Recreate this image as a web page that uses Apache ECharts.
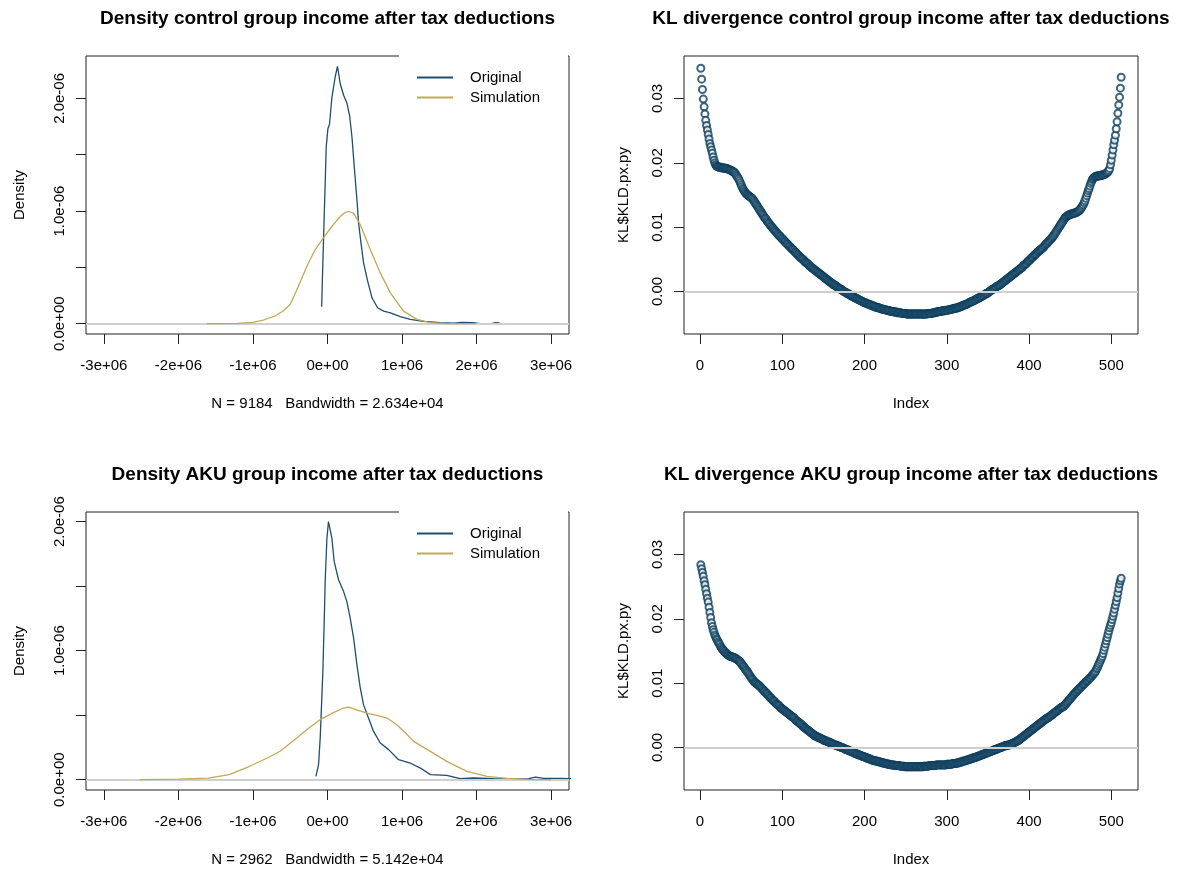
<!DOCTYPE html>
<html>
<head>
<meta charset="utf-8">
<script src="https://cdn.jsdelivr.net/npm/echarts@6/dist/echarts.min.js"></script>
<style>
html,body{margin:0;padding:0;background:#fff}
#chart{width:1197px;height:870px}
</style>
</head>
<body>
<div id="chart"></div>
<script>
// ---- tick positions and labels ----
const densityXTicks = [-3e6, -2e6, -1e6, 0, 1e6, 2e6, 3e6];
const densityXLabels = ['-3e+06', '-2e+06', '-1e+06', '0e+00', '1e+06', '2e+06', '3e+06'];
const densityYTicks = [0, 0.5e-6, 1e-6, 1.5e-6, 2e-6];
const densityYLabelValues = [0, 1e-6, 2e-6];
const densityYLabels = ['0.0e+00', '1.0e-06', '2.0e-06'];
const klXTicks = [0, 100, 200, 300, 400, 500];
const klYTicks = [0, 0.01, 0.02, 0.03];
const klYLabels = ['0.00', '0.01', '0.02', '0.03'];

const panelTitles = [
  'Density control group income after tax deductions',
  'KL divergence control group income after tax deductions',
  'Density AKU group income after tax deductions',
  'KL divergence AKU group income after tax deductions'
];
const densityNotes = ['N = 9184   Bandwidth = 2.634e+04', 'N = 2962   Bandwidth = 5.142e+04'];
const seriesNames = ['Original', 'Simulation'];

// ---- density curves [income, density] ----
const originalControl = [
  [-7.8e4,0.15e-6],[-7.0e4,0.36e-6],[-5.4e4,0.73e-6],[-3.1e4,1.25e-6],[-1.7e4,1.57e-6],
  [0.5e4,1.73e-6],[2.7e4,1.77e-6],[5.9e4,2.01e-6],[10.3e4,2.19e-6],[13.4e4,2.285e-6],
  [17.1e4,2.13e-6],[21.5e4,2.03e-6],[26e4,1.96e-6],[29.6e4,1.85e-6],[32.8e4,1.66e-6],
  [35.9e4,1.39e-6],[39.5e4,1.10e-6],[41.7e4,0.894e-6],[44.9e4,0.717e-6],[48.4e4,0.54e-6],
  [53.8e4,0.38e-6],[59.7e4,0.23e-6],[67.2e4,0.142e-6],[75.3e4,0.112e-6],[84.3e4,0.097e-6],
  [97.7e4,0.062e-6],[111e4,0.038e-6],[129e4,0.02e-6],[151e4,0.009e-6],[170e4,0.006e-6],
  [180e4,0.012e-6],[195e4,0.01e-6],[205e4,0],[220e4,0],[225e4,0.01e-6],[231e4,0.008e-6]
];
const simulationControl = [
  [-162e4,0],[-140e4,0.001e-6],[-120e4,0.003e-6],[-100e4,0.012e-6],[-85e4,0.035e-6],
  [-70e4,0.07e-6],[-60e4,0.11e-6],[-50.1e4,0.171e-6],[-39e4,0.333e-6],[-27.7e4,0.51e-6],
  [-16.5e4,0.658e-6],[-5.4e4,0.761e-6],[5.9e4,0.864e-6],[17.1e4,0.952e-6],[23e4,0.985e-6],
  [28.2e4,0.996e-6],[35e4,0.982e-6],[44e4,0.879e-6],[57.4e4,0.658e-6],[70.8e4,0.451e-6],
  [84.3e4,0.274e-6],[102e4,0.112e-6],[120e4,0.038e-6],[138e4,0.009e-6],[160e4,0.002e-6],
  [200e4,0]
];
const originalAku = [
  [-15.6e4,0.026e-6],[-12e4,0.116e-6],[-9.8e4,0.323e-6],[-8e4,0.58e-6],[-6.2e4,0.84e-6],
  [-4.4e4,1.23e-6],[-3.1e4,1.54e-6],[-0.8e4,1.87e-6],[1.3e4,2.0e-6],[3.6e4,1.99e-6],
  [5.9e4,1.87e-6],[9e4,1.69e-6],[14.8e4,1.55e-6],[21.5e4,1.46e-6],[26e4,1.38e-6],
  [30.5e4,1.25e-6],[35e4,1.10e-6],[39.5e4,0.89e-6],[44e4,0.71e-6],[48.4e4,0.58e-6],
  [55e4,0.478e-6],[61.8e4,0.374e-6],[70.8e4,0.284e-6],[82e4,0.233e-6],[95.4e4,0.155e-6],
  [111e4,0.129e-6],[124.6e4,0.09e-6],[138e4,0.039e-6],[160e4,0.033e-6],[178e4,0.008e-6],
  [196e4,0.013e-6],[223e4,0.008e-6],[245e4,0.004e-6],[270e4,0.008e-6],[279e4,0.02e-6],
  [290e4,0.01e-6],[310e4,0.01e-6],[330e4,0.008e-6]
];
const simulationAku = [
  [-252e4,0],[-200e4,0.004e-6],[-160e4,0.012e-6],[-132e4,0.039e-6],[-106e4,0.1e-6],
  [-80e4,0.17e-6],[-63.6e4,0.22e-6],[-41.1e4,0.323e-6],[-25e4,0.4e-6],[-9.8e4,0.465e-6],
  [8.1e4,0.52e-6],[20e4,0.552e-6],[28.2e4,0.563e-6],[40e4,0.54e-6],[53e4,0.516e-6],
  [66e4,0.498e-6],[79.8e4,0.478e-6],[93e4,0.426e-6],[105e4,0.36e-6],[115.6e4,0.297e-6],
  [138e4,0.219e-6],[160e4,0.142e-6],[187e4,0.064e-6],[214e4,0.026e-6],[241e4,0.01e-6],
  [270e4,0.003e-6],[300e4,0]
];

// ---- KL divergence per index (1..512) ----
const klControl = [
  0.0347,0.0330,0.0314,0.0299,0.0287,0.0276,0.0266,0.0258,0.0251,0.0244,
  0.0237,0.0230,0.0225,0.0220,0.0215,0.0209,0.0204,0.0200,0.0197,0.0195,
  0.0194,0.0194,0.0193,0.0193,0.0193,0.0193,0.0192,0.0192,0.0192,0.0192,
  0.0191,0.0191,0.0191,0.0190,0.0190,0.0189,0.0189,0.0188,0.0187,0.0186,
  0.0186,0.0185,0.0183,0.0181,0.0179,0.0177,0.0175,0.0172,0.0169,0.0166,
  0.0163,0.0160,0.0158,0.0156,0.0154,0.0152,0.0151,0.0150,0.0149,0.0148,
  0.0147,0.0146,0.0145,0.0144,0.0142,0.0140,0.0138,0.0136,0.0134,0.0132,
  0.0130,0.0128,0.0126,0.0124,0.0122,0.0120,0.0118,0.0116,0.0114,0.0113,
  0.0111,0.0109,0.0107,0.0106,0.0104,0.0102,0.0101,0.0099,0.0098,0.0096,
  0.0095,0.0093,0.0092,0.0090,0.0089,0.0087,0.0086,0.0085,0.0083,0.0082,
  0.0081,0.0079,0.0078,0.0077,0.0075,0.0074,0.0073,0.0071,0.0070,0.0069,
  0.0067,0.0066,0.0065,0.0064,0.0062,0.0061,0.0060,0.0058,0.0057,0.0056,
  0.0054,0.0053,0.0052,0.0051,0.0050,0.0049,0.0047,0.0046,0.0045,0.0044,
  0.0043,0.0042,0.0040,0.0039,0.0038,0.0037,0.0036,0.0035,0.0034,0.0033,
  0.0032,0.0031,0.0030,0.0029,0.0028,0.0027,0.0026,0.0025,0.0024,0.0023,
  0.0022,0.0021,0.0020,0.0019,0.0018,0.0017,0.0016,0.0015,0.0014,0.0013,
  0.0012,0.0011,0.0010,0.0010,0.0009,0.0008,0.0007,0.0006,0.0005,0.0004,
  0.0004,0.0003,0.0002,0.0001,0.0000,-0.0001,-0.0001,-0.0002,-0.0003,-0.0004,
  -0.0004,-0.0005,-0.0006,-0.0007,-0.0007,-0.0008,-0.0009,-0.0009,-0.0010,-0.0011,
  -0.0011,-0.0012,-0.0013,-0.0013,-0.0014,-0.0015,-0.0015,-0.0016,-0.0017,-0.0017,
  -0.0018,-0.0018,-0.0019,-0.0019,-0.0020,-0.0020,-0.0021,-0.0021,-0.0022,-0.0022,
  -0.0023,-0.0023,-0.0024,-0.0024,-0.0025,-0.0025,-0.0025,-0.0026,-0.0026,-0.0027,
  -0.0027,-0.0027,-0.0028,-0.0028,-0.0028,-0.0029,-0.0029,-0.0029,-0.0030,-0.0030,
  -0.0030,-0.0031,-0.0031,-0.0031,-0.0031,-0.0032,-0.0032,-0.0032,-0.0032,-0.0033,
  -0.0033,-0.0033,-0.0033,-0.0033,-0.0034,-0.0034,-0.0034,-0.0034,-0.0034,-0.0034,
  -0.0035,-0.0035,-0.0035,-0.0035,-0.0035,-0.0035,-0.0035,-0.0035,-0.0035,-0.0035,
  -0.0035,-0.0035,-0.0035,-0.0035,-0.0035,-0.0035,-0.0035,-0.0035,-0.0035,-0.0035,
  -0.0035,-0.0035,-0.0035,-0.0035,-0.0035,-0.0035,-0.0034,-0.0034,-0.0034,-0.0034,
  -0.0034,-0.0034,-0.0033,-0.0033,-0.0033,-0.0033,-0.0032,-0.0032,-0.0032,-0.0031,
  -0.0031,-0.0031,-0.0031,-0.0030,-0.0030,-0.0030,-0.0030,-0.0030,-0.0029,-0.0029,
  -0.0029,-0.0029,-0.0028,-0.0028,-0.0028,-0.0027,-0.0027,-0.0027,-0.0026,-0.0026,
  -0.0026,-0.0026,-0.0025,-0.0025,-0.0024,-0.0024,-0.0023,-0.0023,-0.0022,-0.0022,
  -0.0021,-0.0021,-0.0020,-0.0020,-0.0019,-0.0018,-0.0018,-0.0017,-0.0016,-0.0016,
  -0.0015,-0.0015,-0.0014,-0.0013,-0.0013,-0.0012,-0.0011,-0.0011,-0.0010,-0.0009,
  -0.0009,-0.0008,-0.0007,-0.0006,-0.0006,-0.0005,-0.0004,-0.0003,-0.0003,-0.0002,
  -0.0001,0.0000,0.0001,0.0002,0.0003,0.0004,0.0004,0.0005,0.0006,0.0007,
  0.0008,0.0009,0.0009,0.0010,0.0011,0.0012,0.0013,0.0014,0.0015,0.0016,
  0.0017,0.0018,0.0019,0.0020,0.0021,0.0022,0.0023,0.0024,0.0025,0.0026,
  0.0027,0.0028,0.0029,0.0030,0.0031,0.0032,0.0033,0.0034,0.0035,0.0036,
  0.0037,0.0038,0.0040,0.0041,0.0042,0.0043,0.0044,0.0046,0.0047,0.0048,
  0.0049,0.0051,0.0052,0.0053,0.0054,0.0056,0.0057,0.0058,0.0059,0.0061,
  0.0062,0.0063,0.0064,0.0065,0.0066,0.0067,0.0068,0.0070,0.0071,0.0073,
  0.0074,0.0075,0.0077,0.0078,0.0079,0.0081,0.0082,0.0084,0.0085,0.0087,
  0.0089,0.0091,0.0093,0.0095,0.0097,0.0099,0.0101,0.0103,0.0105,0.0107,
  0.0109,0.0111,0.0113,0.0115,0.0116,0.0117,0.0118,0.0119,0.0119,0.0120,
  0.0120,0.0121,0.0121,0.0121,0.0122,0.0122,0.0123,0.0123,0.0124,0.0125,
  0.0126,0.0127,0.0129,0.0131,0.0133,0.0135,0.0138,0.0141,0.0145,0.0149,
  0.0153,0.0157,0.0160,0.0164,0.0168,0.0171,0.0174,0.0176,0.0177,0.0178,
  0.0179,0.0179,0.0179,0.0180,0.0180,0.0180,0.0180,0.0181,0.0181,0.0181,
  0.0182,0.0182,0.0183,0.0184,0.0185,0.0186,0.0188,0.0191,0.0197,0.0204,
  0.0212,0.0220,0.0228,0.0235,0.0243,0.0253,0.0264,0.0277,0.0290,0.0302,
  0.0316,0.0333
];
const klAku = [
  0.0284,0.0278,0.0272,0.0266,0.0259,0.0253,0.0246,0.0239,0.0232,0.0226,
  0.0218,0.0210,0.0202,0.0194,0.0188,0.0183,0.0179,0.0175,0.0172,0.0169,
  0.0167,0.0164,0.0162,0.0160,0.0157,0.0155,0.0153,0.0152,0.0150,0.0149,
  0.0147,0.0146,0.0145,0.0144,0.0143,0.0142,0.0142,0.0141,0.0141,0.0140,
  0.0140,0.0139,0.0139,0.0138,0.0137,0.0136,0.0135,0.0134,0.0133,0.0131,
  0.0129,0.0127,0.0126,0.0124,0.0122,0.0120,0.0119,0.0117,0.0115,0.0113,
  0.0111,0.0109,0.0107,0.0106,0.0104,0.0102,0.0101,0.0100,0.0099,0.0098,
  0.0097,0.0096,0.0095,0.0093,0.0092,0.0091,0.0089,0.0088,0.0087,0.0085,
  0.0084,0.0083,0.0081,0.0080,0.0078,0.0077,0.0076,0.0074,0.0073,0.0072,
  0.0071,0.0069,0.0068,0.0067,0.0066,0.0065,0.0064,0.0062,0.0061,0.0060,
  0.0059,0.0058,0.0057,0.0056,0.0055,0.0054,0.0053,0.0052,0.0051,0.0050,
  0.0049,0.0048,0.0047,0.0046,0.0045,0.0043,0.0042,0.0041,0.0040,0.0039,
  0.0038,0.0037,0.0036,0.0035,0.0033,0.0032,0.0031,0.0030,0.0029,0.0028,
  0.0027,0.0026,0.0025,0.0024,0.0023,0.0022,0.0021,0.0020,0.0019,0.0018,
  0.0018,0.0017,0.0016,0.0016,0.0015,0.0015,0.0014,0.0013,0.0013,0.0012,
  0.0011,0.0011,0.0010,0.0010,0.0009,0.0009,0.0008,0.0008,0.0007,0.0006,
  0.0006,0.0005,0.0005,0.0004,0.0004,0.0003,0.0003,0.0002,0.0002,0.0001,
  0.0001,0.0000,0.0000,-0.0001,-0.0001,-0.0002,-0.0003,-0.0003,-0.0004,-0.0004,
  -0.0005,-0.0005,-0.0006,-0.0006,-0.0007,-0.0007,-0.0008,-0.0009,-0.0009,-0.0010,
  -0.0010,-0.0011,-0.0011,-0.0012,-0.0012,-0.0013,-0.0013,-0.0014,-0.0014,-0.0015,
  -0.0015,-0.0016,-0.0016,-0.0017,-0.0017,-0.0018,-0.0018,-0.0019,-0.0019,-0.0020,
  -0.0020,-0.0020,-0.0021,-0.0021,-0.0021,-0.0022,-0.0022,-0.0022,-0.0023,-0.0023,
  -0.0023,-0.0024,-0.0024,-0.0024,-0.0025,-0.0025,-0.0025,-0.0026,-0.0026,-0.0026,
  -0.0026,-0.0027,-0.0027,-0.0027,-0.0027,-0.0027,-0.0028,-0.0028,-0.0028,-0.0028,
  -0.0028,-0.0028,-0.0029,-0.0029,-0.0029,-0.0029,-0.0029,-0.0029,-0.0030,-0.0030,
  -0.0030,-0.0030,-0.0030,-0.0030,-0.0030,-0.0030,-0.0030,-0.0030,-0.0030,-0.0030,
  -0.0030,-0.0030,-0.0030,-0.0030,-0.0030,-0.0030,-0.0030,-0.0030,-0.0030,-0.0030,
  -0.0030,-0.0029,-0.0029,-0.0029,-0.0029,-0.0029,-0.0029,-0.0029,-0.0028,-0.0028,
  -0.0028,-0.0028,-0.0028,-0.0028,-0.0028,-0.0028,-0.0027,-0.0027,-0.0027,-0.0027,
  -0.0027,-0.0027,-0.0027,-0.0027,-0.0027,-0.0027,-0.0027,-0.0027,-0.0027,-0.0026,
  -0.0026,-0.0026,-0.0026,-0.0026,-0.0026,-0.0026,-0.0025,-0.0025,-0.0025,-0.0025,
  -0.0025,-0.0024,-0.0024,-0.0024,-0.0023,-0.0023,-0.0023,-0.0022,-0.0022,-0.0021,
  -0.0021,-0.0021,-0.0020,-0.0020,-0.0019,-0.0019,-0.0019,-0.0018,-0.0018,-0.0017,
  -0.0017,-0.0016,-0.0016,-0.0016,-0.0015,-0.0015,-0.0014,-0.0014,-0.0013,-0.0013,
  -0.0012,-0.0012,-0.0011,-0.0011,-0.0010,-0.0010,-0.0009,-0.0009,-0.0008,-0.0008,
  -0.0007,-0.0007,-0.0006,-0.0006,-0.0005,-0.0005,-0.0004,-0.0004,-0.0003,-0.0003,
  -0.0002,-0.0002,-0.0001,-0.0001,0.0000,0.0000,0.0001,0.0001,0.0002,0.0002,
  0.0003,0.0003,0.0003,0.0004,0.0004,0.0004,0.0005,0.0005,0.0006,0.0006,
  0.0007,0.0008,0.0008,0.0009,0.0010,0.0010,0.0011,0.0012,0.0013,0.0014,
  0.0015,0.0016,0.0017,0.0018,0.0019,0.0020,0.0021,0.0022,0.0023,0.0024,
  0.0025,0.0026,0.0027,0.0028,0.0029,0.0030,0.0031,0.0032,0.0033,0.0034,
  0.0035,0.0036,0.0037,0.0038,0.0039,0.0040,0.0041,0.0042,0.0043,0.0044,
  0.0045,0.0046,0.0046,0.0047,0.0048,0.0049,0.0050,0.0051,0.0052,0.0053,
  0.0054,0.0055,0.0056,0.0057,0.0058,0.0059,0.0060,0.0061,0.0062,0.0063,
  0.0063,0.0064,0.0065,0.0067,0.0068,0.0070,0.0071,0.0073,0.0074,0.0076,
  0.0077,0.0079,0.0080,0.0082,0.0083,0.0085,0.0086,0.0087,0.0089,0.0090,
  0.0091,0.0093,0.0094,0.0095,0.0097,0.0098,0.0099,0.0100,0.0102,0.0103,
  0.0104,0.0105,0.0107,0.0108,0.0109,0.0111,0.0112,0.0114,0.0115,0.0117,
  0.0119,0.0122,0.0124,0.0127,0.0130,0.0133,0.0136,0.0139,0.0142,0.0146,
  0.0151,0.0156,0.0161,0.0166,0.0171,0.0176,0.0181,0.0186,0.0190,0.0194,
  0.0199,0.0204,0.0209,0.0215,0.0221,0.0227,0.0233,0.0240,0.0247,0.0254,
  0.0259,0.0263
];

// ---- styling ----
const FONT = '"Liberation Sans", Arial, sans-serif';
const INK = '#000';
const FRAME = '#222';
const BLUE = '#1d4e6d';
const GOLD = '#c4a757';
const POINT = '#0d3e5e';
const ZERO = '#cfcfcf';

function labelFor(ticks, labels) {
  return function (v) {
    const i = ticks.findIndex(t => Math.abs(t - v) <= Math.abs(t) * 1e-6 + 1e-15);
    return i >= 0 ? labels[i] : '';
  };
}

const panels = [
  { left: 86, top: 56, width: 483, height: 278 },
  { left: 684, top: 56, width: 454, height: 278 },
  { left: 86, top: 512, width: 483, height: 278 },
  { left: 684, top: 512, width: 454, height: 278 }
];

const grid = panels.map(p => Object.assign({
  show: true, borderColor: FRAME, borderWidth: 1, backgroundColor: 'transparent'
}, p));

function xAxisFor(gridIndex, min, max, ticks, labels, name) {
  return {
    type: 'value', gridIndex, min, max, position: 'bottom',
    axisLine: { show: false, onZero: false },
    axisTick: { show: true, inside: false, length: 10, customValues: ticks, lineStyle: { color: FRAME, width: 1 } },
    axisLabel: { customValues: ticks, formatter: labelFor(ticks, labels), fontSize: 15, margin: 24, color: INK, fontFamily: FONT },
    splitLine: { show: false },
    name, nameLocation: 'middle', nameGap: 62,
    nameTextStyle: { fontSize: 15, color: INK, fontFamily: FONT }
  };
}
function yAxisFor(gridIndex, min, max, ticks, labelValues, labels, name, nameGap) {
  return {
    type: 'value', gridIndex, min, max, position: 'left',
    axisLine: { show: false, onZero: false },
    axisTick: { show: true, inside: false, length: 10, customValues: ticks, lineStyle: { color: FRAME, width: 1 } },
    axisLabel: { customValues: labelValues, formatter: labelFor(labelValues, labels), rotate: 90, fontSize: 15, margin: 19, color: INK, fontFamily: FONT },
    splitLine: { show: false },
    name, nameLocation: 'middle', nameGap,
    nameTextStyle: { fontSize: 15, color: INK, fontFamily: FONT }
  };
}

const xAxis = [
  xAxisFor(0, -3.24e6, 3.24e6, densityXTicks, densityXLabels, densityNotes[0]),
  xAxisFor(1, -19.44, 532.44, klXTicks, klXTicks.map(String), 'Index'),
  xAxisFor(2, -3.24e6, 3.24e6, densityXTicks, densityXLabels, densityNotes[1]),
  xAxisFor(3, -19.44, 532.44, klXTicks, klXTicks.map(String), 'Index')
];
const yAxis = [
  yAxisFor(0, -0.0914e-6, 2.3764e-6, densityYTicks, densityYLabelValues, densityYLabels, 'Density', 59),
  yAxisFor(1, -0.0066, 0.0366, klYTicks, klYTicks, klYLabels, 'KL$KLD.px.py', 53),
  yAxisFor(2, -0.08e-6, 2.075e-6, densityYTicks, densityYLabelValues, densityYLabels, 'Density', 59),
  yAxisFor(3, -0.0066, 0.0366, klYTicks, klYTicks, klYLabels, 'KL$KLD.px.py', 53)
];

// horizontal reference line at zero, layered between the two density curves
function zeroLine(idx) {
  return {
    type: 'line', xAxisIndex: idx, yAxisIndex: idx, data: [], z: 3,
    markLine: {
      z: 3, silent: true, symbol: 'none', animation: false,
      label: { show: false },
      lineStyle: { color: ZERO, width: 2, type: 'solid' },
      emphasis: { disabled: true },
      data: [{ yAxis: 0 }]
    }
  };
}
function densityLine(name, idx, data, color, z) {
  return {
    name, type: 'line', xAxisIndex: idx, yAxisIndex: idx, data, z,
    color, showSymbol: false, symbol: 'none', smooth: false,
    lineStyle: { color, width: 1.3 },
    emphasis: { disabled: true }
  };
}
function klPoints(idx, values) {
  return {
    type: 'scatter', xAxisIndex: idx, yAxisIndex: idx, z: 2,
    data: values.map((v, i) => [i + 1, v]),
    symbol: 'emptyCircle', symbolSize: 7,
    itemStyle: { color: POINT, borderColor: POINT, borderWidth: 0.75 },
    emphasis: { disabled: true }
  };
}

const series = [
  densityLine(seriesNames[0], 0, originalControl, BLUE, 2),
  zeroLine(0),
  densityLine(seriesNames[1], 0, simulationControl, GOLD, 6),
  klPoints(1, klControl),
  zeroLine(1),
  densityLine(seriesNames[0], 2, originalAku, BLUE, 2),
  zeroLine(2),
  densityLine(seriesNames[1], 2, simulationAku, GOLD, 6),
  klPoints(3, klAku),
  zeroLine(3)
];

function legendAt(top) {
  return {
    data: seriesNames, orient: 'vertical', left: 399, top,
    icon: 'rect', itemWidth: 36, itemHeight: 2, itemGap: 1,
    backgroundColor: '#fff', padding: [16, 28, 12, 18],
    selectedMode: false,
    textStyle: { fontSize: 15, color: INK, fontFamily: FONT, lineHeight: 19, padding: [0, 0, 0, 12] }
  };
}

const titleGraphics = panelTitles.map((t, i) => ({
  type: 'text',
  x: panels[i].left + panels[i].width / 2,
  y: panels[i].top - 37,
  style: { text: t, align: 'center', verticalAlign: 'middle', font: 'bold 19px ' + FONT, fill: INK }
}));

const chart = echarts.init(document.getElementById('chart'), null, { renderer: 'canvas' });
chart.setOption({
  animation: false,
  backgroundColor: '#fff',
  grid, xAxis, yAxis, series,
  legend: [legendAt(52), legendAt(508)],
  graphic: titleGraphics
});
</script>
</body>
</html>
